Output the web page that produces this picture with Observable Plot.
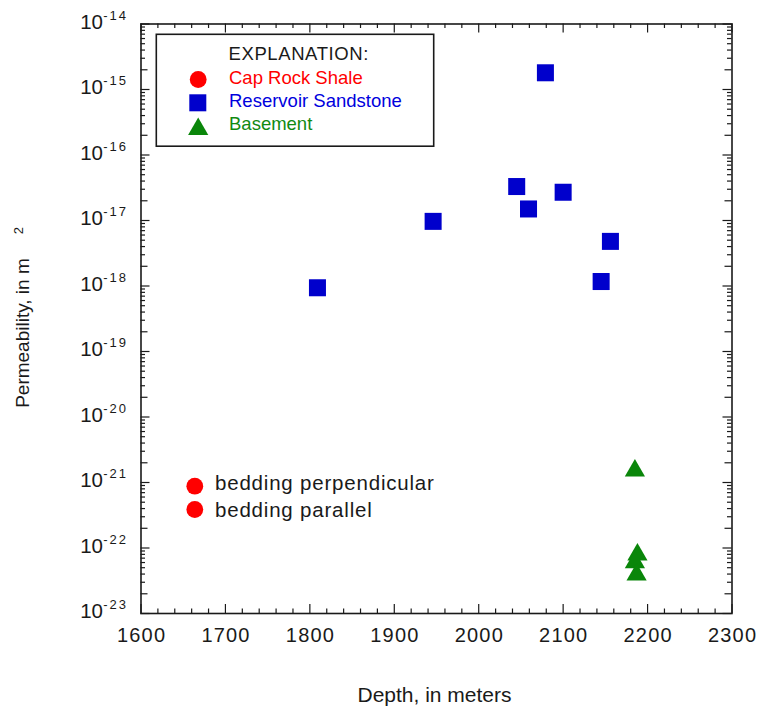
<!DOCTYPE html>
<html>
<head>
<meta charset="utf-8">
<script src="https://cdn.jsdelivr.net/npm/d3@7"></script>
<script src="https://cdn.jsdelivr.net/npm/@observablehq/plot@0.6"></script>
<style>
  html, body { margin: 0; padding: 0; background: #fff; }
</style>
</head>
<body>
<div id="chart"></div>
<script>
// ---- data ----
const depthTicks = [1600, 1700, 1800, 1900, 2000, 2100, 2200, 2300];
const permExponents = [-14, -15, -16, -17, -18, -19, -20, -21, -22, -23];

const sandstoneDepth = [1809, 1946, 2045, 2059, 2079, 2100, 2145, 2156];
const sandstonePerm  = [9.4e-19, 9.7e-18, 3.3e-17, 1.5e-17, 1.8e-15, 2.7e-17, 1.17e-18, 4.8e-18];

const basementDepth = [2185, 2188, 2185, 2187];
const basementPerm  = [1.52e-21, 7.9e-23, 6.0e-23, 3.9e-23];

const legendTitle = "EXPLANATION:";
const legendLabels = ["Cap Rock Shale", "Reservoir Sandstone", "Basement"];
const beddingLabels = ["bedding perpendicular", "bedding parallel"];
const xTitle = "Depth, in meters";
const yTitle = "Permeability, in m";
const yTitleSup = "2";

// ---- derived tables ----
const sandstone = sandstoneDepth.map((d, i) => ({depth: d, perm: sandstonePerm[i]}));
const basement = basementDepth.map((d, i) => ({depth: d, perm: basementPerm[i]}));
const depthMinor = d3.range(1600, 2300, 20).filter(d => d % 100 !== 0);
const permMajor = permExponents.map(e => Math.pow(10, e));
const permTwo = permExponents.slice(1).map(e => 2 * Math.pow(10, e));
const permMinor = permExponents.slice(1).flatMap(e => [3,4,5,6,7,8,9].map(m => m * Math.pow(10, e)));

// ---- layout ----
const W = 757, H = 709, mL = 140.5, mR = 25.5, mT = 23.5, mB = 96;
const fw = W - mL - mR, fh = H - mT - mB;
const ink = "#1a1a1a";
const RED = "#ff0000", BLUE = "#0000cc", GREEN = "#0a860a";
const BLUE_T = "#0000dd", GREEN_T = "#118a11";

const tk = {stroke: ink, strokeWidth: 1.2};

const chart = Plot.plot({
  width: W, height: H,
  marginLeft: mL, marginRight: mR, marginTop: mT, marginBottom: mB,
  style: {fontFamily: "'Liberation Sans', Arial, Helvetica, sans-serif", background: "#fff", color: ink},
  x: {domain: [1600, 2300], axis: null},
  y: {type: "log", domain: [1e-23, 1e-14], axis: null},
  marks: [
    // inward ticks, x
    Plot.tickX(depthTicks, {x: d => d, insetTop: fh - 9, ...tk}),
    Plot.tickX(depthTicks, {x: d => d, insetBottom: fh - 9, ...tk}),
    Plot.tickX(depthMinor, {x: d => d, insetTop: fh - 4.5, ...tk}),
    Plot.tickX(depthMinor, {x: d => d, insetBottom: fh - 4.5, ...tk}),
    // inward ticks, y
    Plot.tickY(permMajor, {y: d => d, insetRight: fw - 9, ...tk}),
    Plot.tickY(permMajor, {y: d => d, insetLeft: fw - 9, ...tk}),
    Plot.tickY(permTwo, {y: d => d, insetRight: fw - 7, ...tk}),
    Plot.tickY(permTwo, {y: d => d, insetLeft: fw - 7, ...tk}),
    Plot.tickY(permMinor, {y: d => d, insetRight: fw - 4.5, ...tk}),
    Plot.tickY(permMinor, {y: d => d, insetLeft: fw - 4.5, ...tk}),
    Plot.frame({stroke: ink, strokeWidth: 1.6}),

    // x tick labels
    Plot.text(depthTicks, {x: d => d, frameAnchor: "bottom", dx: 0.6, dy: 14, lineAnchor: "top",
      text: d => String(d), fontSize: 20, fill: ink}),
    // y tick labels 10^n
    Plot.text(permExponents, {y: d => Math.pow(10, d), frameAnchor: "left", dx: -38, dy: 4.5,
      lineAnchor: "bottom", textAnchor: "end", text: () => "10", fontSize: 20.5, fill: ink}),
    Plot.text(permExponents, {y: d => Math.pow(10, d), frameAnchor: "left", dx: -37.8, dy: -4.5,
      lineAnchor: "bottom", textAnchor: "start", text: d => String(d), fontSize: 13, fill: ink}),

    // axis titles
    Plot.text([xTitle], {frameAnchor: "bottom", dx: -2, dy: 88.7, lineAnchor: "bottom",
      text: d => d, fontSize: 21, fill: ink}),
    Plot.text([yTitle], {frameAnchor: "left", dx: -112, dy: 14.3, rotate: -90, lineAnchor: "bottom",
      textAnchor: "middle", text: d => d, fontSize: 19, fill: ink}),
    Plot.text([yTitleSup], {frameAnchor: "left", dx: -118.5, dy: -88, rotate: -90, lineAnchor: "bottom",
      textAnchor: "middle", text: d => d, fontSize: 13, fill: ink}),

    // data
    Plot.dot(sandstone, {x: "depth", y: "perm", symbol: "square", r: 9.6, fill: BLUE}),
    Plot.dot(basement, {x: "depth", y: "perm", symbol: "triangle", r: 7.5, fill: GREEN}),

    // explanation box
    Plot.frame({stroke: ink, strokeWidth: 1.6, fill: "none",
      insetLeft: 15.3, insetTop: 10.3, insetRight: 298.3, insetBottom: 467.3}),
    Plot.text([legendTitle], {frameAnchor: "top-left", dx: 87.5, dy: 35.8, lineAnchor: "bottom",
      text: d => d, fontSize: 18.5, fill: ink}),
    Plot.dot([legendLabels[0]], {frameAnchor: "top-left", dx: 57.2, dy: 55.5, symbol: "circle", r: 8.4, fill: RED}),
    Plot.dot([legendLabels[1]], {frameAnchor: "top-left", dx: 56.8, dy: 78.8, symbol: "square", r: 9.6, fill: BLUE}),
    Plot.dot([legendLabels[2]], {frameAnchor: "top-left", dx: 57.2, dy: 105.2, symbol: "triangle", r: 7.5, fill: GREEN}),
    Plot.text([legendLabels[0]], {frameAnchor: "top-left", dx: 88, dy: 59.8, lineAnchor: "bottom",
      text: d => d, fontSize: 18.5, fill: RED}),
    Plot.text([legendLabels[1]], {frameAnchor: "top-left", dx: 88, dy: 83.2, lineAnchor: "bottom",
      text: d => d, fontSize: 18.5, fill: BLUE_T}),
    Plot.text([legendLabels[2]], {frameAnchor: "top-left", dx: 88, dy: 105.8, lineAnchor: "bottom",
      text: d => d, fontSize: 18.5, fill: GREEN_T}),

    // bedding legend
    Plot.dot([beddingLabels[0]], {frameAnchor: "top-left", dx: 53.8, dy: 462.2, symbol: "circle", r: 8.4, fill: RED}),
    Plot.dot([beddingLabels[1]], {frameAnchor: "top-left", dx: 53.8, dy: 485.5, symbol: "circle", r: 8.4, fill: RED}),
    Plot.text([beddingLabels[0]], {frameAnchor: "top-left", dx: 74, dy: 465.8, lineAnchor: "bottom",
      text: d => d, fontSize: 20.5, fill: ink}),
    Plot.text([beddingLabels[1]], {frameAnchor: "top-left", dx: 74, dy: 492.5, lineAnchor: "bottom",
      text: d => d, fontSize: 20.5, fill: ink})
  ]
});
document.getElementById("chart").appendChild(chart);

// letter-spacing tweaks to match the wider original type
const spacing = new Map([
  ...depthTicks.map(d => [String(d), "1.2px"]),
  ...permExponents.map(d => [String(d), "2px"]),
  [legendTitle, "0.6px"],
  ...beddingLabels.map(d => [d, "0.8px"])
]);
d3.select(chart).selectAll("text").each(function() {
  const s = spacing.get(this.textContent);
  if (s) this.style.letterSpacing = s;
});
</script>
</body>
</html>
